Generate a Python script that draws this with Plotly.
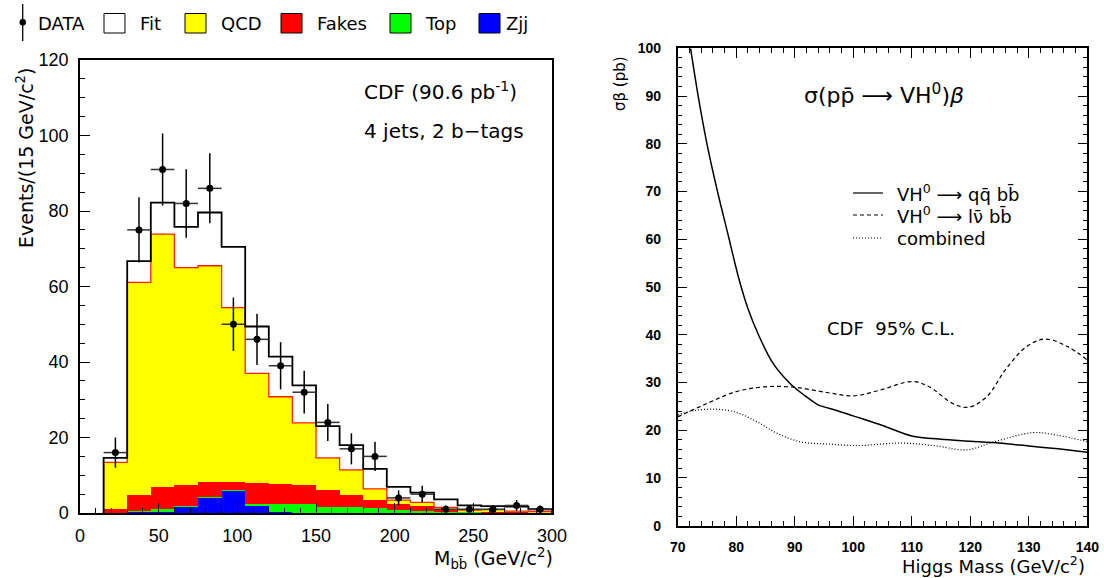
import numpy as np
import plotly.graph_objects as go

# Figure laid out in window pixels; the page body margin is removed by a post script.
OFF = 0
W, H = 1104 - OFF, 578 - OFF

# ---------------- Left panel data: M_bb histogram (15 GeV bins) ----------------
bin_lo = [15, 30, 45, 60, 75, 90, 105, 120, 135, 150, 165, 180, 195, 210, 225, 240, 255, 270, 285]
bin_hi = [30, 45, 60, 75, 90, 105, 120, 135, 150, 165, 180, 195, 210, 225, 240, 255, 270, 285, 300]
bin_center = [22.5, 37.5, 52.5, 67.5, 82.5, 97.5, 112.5, 127.5, 142.5, 157.5, 172.5, 187.5,
              202.5, 217.5, 232.5, 247.5, 262.5, 277.5, 292.5]
data_counts = [16, 75, 91, 82, 86, 50, 46, 39, 32, 24, 17, 15, 4, 5, 1, 1, 1, 2, 1]
fit_total = [14.6, 66.7, 82.2, 75.8, 79.6, 70.5, 49.4, 41.4, 33.8, 23.0, 18.0, 11.7, 6.9, 5.4, 3.6, 2.0, 1.8, 1.7, 1.0]
zjj = [0.0, 0.3, 0.5, 1.6, 4.1, 6.0, 1.9, 0.2, 0.0, 0.0, 0.0, 0.0, 0.0, 0.0, 0.0, 0.0, 0.0, 0.0, 0.0]
top = [0.1, 0.2, 0.5, 0.2, 0.1, 0.1, 0.6, 2.3, 2.4, 1.7, 1.5, 1.2, 0.8, 0.6, 0.4, 0.3, 0.2, 0.1, 0.1]
fakes = [0.9, 4.2, 5.8, 5.7, 4.0, 2.2, 5.5, 5.3, 4.9, 4.3, 3.3, 2.2, 1.7, 1.2, 0.4, 0.2, 0.2, 0.2, 0.1]
qcd = [12.4, 56.4, 67.1, 57.5, 57.3, 46.1, 29.0, 23.0, 16.6, 8.6, 6.6, 3.0, 0.9, 1.0, 0.7, 0.3, 0.5, 0.2, 0.2]

# ---------------- Right panel data: 95% C.L. limits ----------------
mass_qq = [72.2, 73.5, 75, 76.8, 78.6, 80.4, 82.0, 83.8, 86.3, 89.2, 92, 94, 97, 100, 105, 110, 115, 120, 125, 130, 135, 140]
limit_qq = [100, 90, 80, 70, 61, 52, 45.5, 40, 34, 29.8, 27, 25.3, 24.2, 23, 21, 18.8, 18.1, 17.7, 17.3, 16.7, 16.1, 15.4]
mass_lv = [70, 75, 80, 85, 90, 95.5, 100, 104.6, 110, 113, 117, 119.7, 122.8, 126.2, 129.6, 132.8, 136.5, 140]
limit_lv = [22.8, 25.6, 28.1, 29.1, 29.0, 27.9, 27.2, 28.4, 30.2, 29.1, 25.6, 24.8, 27.0, 33.0, 37.5, 39.1, 37.6, 34.7]
mass_comb = [70, 72.7, 76.7, 80.1, 83.5, 86.9, 90.9, 95.5, 101, 108, 113.7, 119.4, 123.9, 130.7, 134.7, 140]
limit_comb = [23.2, 24.1, 24.4, 23.7, 21.8, 19.4, 17.6, 17.1, 16.8, 17.3, 16.8, 15.9, 17.5, 19.5, 19.0, 17.6]

TXT = "DejaVu Sans"
NUM = "Liberation Sans, Arial"


def px(x):
    return (x - OFF) / W


def py(y):
    return 1 - (y - OFF) / H


def step_xy(values):
    xs, ys = [bin_lo[0]], [0]
    for lo, hi, v in zip(bin_lo, bin_hi, values):
        xs += [lo, hi]
        ys += [v, v]
    xs.append(bin_hi[-1])
    ys.append(0)
    return xs, ys


fig = go.Figure()

for vals, col in [(zjj, "#0000ff"), (top, "#00ff00"), (fakes, "#ff0000"), (qcd, "#ffff00")]:
    fig.add_trace(go.Bar(x=bin_center, y=vals, width=15, marker=dict(color=col, line=dict(width=0)),
                         xaxis="x", yaxis="y", showlegend=False, hoverinfo="skip"))

qcd_top = list(np.array(zjj) + np.array(top) + np.array(fakes) + np.array(qcd))
qx, qy = step_xy(qcd_top)
fig.add_trace(go.Scatter(x=qx, y=qy, mode="lines", line=dict(color="#ff2000", width=1.3),
                         xaxis="x", yaxis="y", showlegend=False))
fx, fy = step_xy(fit_total)
fig.add_trace(go.Scatter(x=fx, y=fy, mode="lines", line=dict(color="black", width=1.8),
                         xaxis="x", yaxis="y", showlegend=False))
fig.add_trace(go.Scatter(
    x=bin_center, y=data_counts, mode="markers",
    marker=dict(color="black", size=7),
    error_y=dict(type="data", array=list(np.sqrt(data_counts)), color="black", thickness=1.5, width=0),
    error_x=dict(type="constant", value=7.5, color="#333333", thickness=1.5, width=0),
    xaxis="x", yaxis="y", showlegend=False))

# right panel curves
fig.add_trace(go.Scatter(x=mass_qq, y=limit_qq, mode="lines",
                         line=dict(color="black", width=1.5, shape="spline", smoothing=0.8),
                         xaxis="x2", yaxis="y2", showlegend=False))
fig.add_trace(go.Scatter(x=mass_lv, y=limit_lv, mode="lines",
                         line=dict(color="black", width=1.2, dash="4px,3px", shape="spline", smoothing=1.0),
                         xaxis="x2", yaxis="y2", showlegend=False))
fig.add_trace(go.Scatter(x=mass_comb, y=limit_comb, mode="lines",
                         line=dict(color="black", width=1.2, dash="1px,2px", shape="spline", smoothing=1.0),
                         xaxis="x2", yaxis="y2", showlegend=False))

axcommon = dict(showgrid=False, zeroline=False, showline=True, linecolor="black", linewidth=1.5,
                ticks="inside", tickcolor="black", tickwidth=1.3, automargin=False)

fig.update_layout(
    template="none",
    width=W, height=H, margin=dict(l=0, r=0, t=0, b=0, pad=0, autoexpand=False),
    paper_bgcolor="white", plot_bgcolor="white",
    barmode="stack", bargap=0, showlegend=False,
    xaxis=dict(**axcommon, domain=[px(80), px(552)], anchor="y", range=[0, 300], dtick=50, tick0=0,
               ticklen=10, mirror=True,
               minor=dict(ticks="inside", dtick=10, ticklen=5, tickcolor="black", tickwidth=1),
               tickfont=dict(family=NUM, size=18, color="black"), ticklabelstandoff=6),
    yaxis=dict(**axcommon, domain=[py(513), py(60)], anchor="x", range=[0, 120], dtick=20, tick0=0,
               ticklen=10, mirror=True,
               minor=dict(ticks="inside", dtick=5, ticklen=5, tickcolor="black", tickwidth=1),
               tickfont=dict(family=NUM, size=18, color="black"), ticklabelstandoff=6),
    xaxis2=dict(**axcommon, domain=[px(677.7), px(1087.3)], anchor="y2", range=[70, 140], dtick=10, tick0=70,
                ticklen=10, mirror="ticks",
                minor=dict(ticks="inside", dtick=2, ticklen=5, tickcolor="black", tickwidth=1),
                tickfont=dict(family=NUM, size=14, color="black", weight="bold"), ticklabelstandoff=8),
    yaxis2=dict(**axcommon, domain=[py(525.7), py(48.3)], anchor="x2", range=[0, 100], dtick=10, tick0=0,
                ticklen=10, mirror="ticks",
                minor=dict(ticks="inside", dtick=2, ticklen=5, tickcolor="black", tickwidth=1),
                tickfont=dict(family=NUM, size=14, color="black", weight="bold"), ticklabelstandoff=12),
)

ann = []


def add_text(x, y, text, size, xanchor="left", yanchor="middle", angle=0, family=TXT, weight="normal"):
    ann.append(dict(x=px(x), y=py(y), xref="paper", yref="paper", text=text, showarrow=False,
                    xanchor=xanchor, yanchor=yanchor, textangle=angle,
                    font=dict(family=family, size=size, color="black", weight=weight)))


# left panel texts
add_text(25, 158, "Events/(15 GeV/c<sup>2</sup>)", 19, xanchor="center", angle=-90)
add_text(493, 558, "M<sub>bb\u0304</sub> (GeV/c<sup>2</sup>)", 19, xanchor="center")
add_text(362, 91, "CDF (90.6 pb<sup>-1</sup>)", 20)
add_text(362, 131, "4 jets, 2 b\u2212tags", 20)

# left legend
shapes = []
shapes.append(dict(type="line", xref="paper", yref="paper", x0=px(22.7), x1=px(22.7), y0=py(4), y1=py(41),
                   line=dict(color="black", width=1.3)))
shapes.append(dict(type="circle", xref="paper", yref="paper", x0=px(19.5), x1=px(26), y0=py(25.5), y1=py(19),
                   fillcolor="black", line=dict(color="black", width=0)))
add_text(36, 23, "DATA", 18)
legend_items = [("Fit", "white", 104, 138), ("QCD", "#ffff00", 185, 219), ("Fakes", "#ff0000", 281, 315),
                ("Top", "#00ff00", 390, 423), ("Zjj", "#0000ff", 479, 504)]
for name, col, bx, tx in legend_items:
    shapes.append(dict(type="rect", xref="paper", yref="paper", x0=px(bx), x1=px(bx + 21), y0=py(33), y1=py(13.5),
                       fillcolor=col, line=dict(color="black", width=1)))
    add_text(tx, 23, name, 18)

# right panel texts
add_text(620, 84, "\u03c3\u03b2 (pb)", 15, xanchor="center", angle=-90)
add_text(1087, 565, "Higgs Mass (GeV/c<sup>2</sup>)", 18, xanchor="right")
add_text(884, 94, "\u03c3(pp\u0304 \u27f6 VH<sup>0</sup>)<i>\u03b2</i>", 22, xanchor="center")
add_text(825, 328, "CDF  95% C.L.", 18)
leg2 = [("VH<sup>0</sup> \u27f6 qq\u0304 bb\u0304", "solid", 193),
        ("VH<sup>0</sup> \u27f6 l\u03bd\u0304 bb\u0304", "4px,3px", 215),
        ("combined", "1px,2px", 238)]
for txt, dash, yy in leg2:
    shapes.append(dict(type="line", xref="paper", yref="paper", x0=px(853), x1=px(883), y0=py(yy), y1=py(yy),
                       line=dict(color="black", width=1.2, dash=dash)))
    add_text(895, yy, txt, 18)

fig.update_layout(annotations=ann, shapes=shapes)
fig.write_html("out.html", config={"displayModeBar": False},
               post_script="document.body.style.margin='0px';document.body.style.overflow='hidden';")
